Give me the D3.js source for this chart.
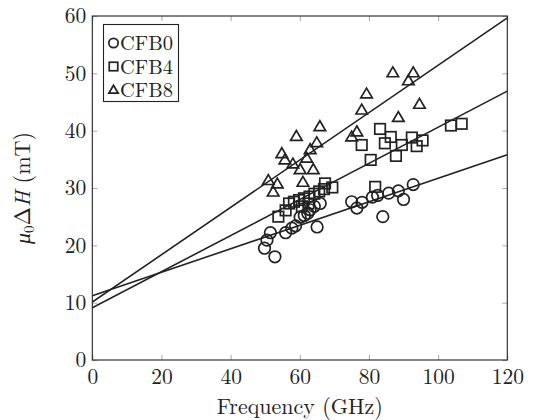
<!DOCTYPE html>
<html><head><meta charset="utf-8">
<script src="https://cdn.jsdelivr.net/npm/d3@7"></script>
<style>body{margin:0;background:#fff;}</style>
</head><body><svg id="c" width="540" height="420"></svg>
<script>
// ---- data ----
const seriesNames = ["CFB0", "CFB4", "CFB8"];
const xTicks = [0, 20, 40, 60, 80, 100, 120];
const yTicks = [0, 10, 20, 30, 40, 50, 60];
const cfb0 = [[49.8,19.5],[50.5,20.9],[51.5,22.2],[52.8,18.0],[55.9,22.2],[57.7,23.0],[58.8,23.4],
  [60.1,24.9],[61.3,25.2],[62.3,25.6],[63.0,26.2],[64.2,26.8],[65.0,23.2],[65.9,27.3],[75.0,27.6],
  [76.5,26.5],[78.0,27.5],[81.0,28.4],[82.5,28.7],[84.0,25.0],[85.7,29.1],[88.5,29.5],[90.0,28.0],[92.8,30.6]];
const cfb4 = [[53.8,25.0],[55.9,26.1],[56.9,27.3],[58.3,27.6],[59.8,27.9],[60.6,26.8],[61.2,28.2],[62.5,27.3],
  [62.8,28.5],[64.2,29.0],[65.6,29.4],[67.0,29.8],[67.3,30.8],[69.4,30.1],[77.9,37.5],[80.5,34.9],
  [81.8,30.2],[83.2,40.3],[84.6,37.8],[86.3,38.9],[87.8,35.6],[89.5,37.5],[92.4,38.8],[93.8,37.3],
  [95.5,38.3],[103.7,40.9],[106.8,41.2]];
const cfb8 = [[50.9,31.3],[52.3,29.3],[53.5,30.7],[54.8,36.0],[55.7,34.9],[58.0,34.2],[59.0,39.0],[60.1,33.2],
  [60.9,31.0],[62.0,35.2],[63.0,36.7],[63.9,33.2],[64.9,37.9],[65.8,40.7],[75.0,38.9],[76.5,39.8],
  [77.9,43.6],[79.3,46.4],[86.9,50.1],[88.5,42.3],[91.4,48.7],[92.8,50.1],[94.6,44.6]];
const fitIntercepts = [11.2, 9.1, 10.1];
const fitSlopes = [0.205, 0.315, 0.413];

// ---- layout ----
const L = 92.3, R = 507.3, T = 16, B = 360;
const FONT = '"Latin Modern Roman", "Liberation Serif", serif';
const FS = 21.5;
const svg = d3.select("#c");
const x = d3.scaleLinear().domain([0,120]).range([L,R]);
const y = d3.scaleLinear().domain([0,60]).range([B,T]);
const ink = "#222";

svg.append("defs").append("clipPath").attr("id","clip")
  .append("rect").attr("x",L).attr("y",T).attr("width",R-L).attr("height",B-T);

// axes with inward ticks
const tickLen = 5;
const gx = svg.append("g").attr("transform",`translate(0,${B})`)
  .call(d3.axisBottom(x).tickValues(xTicks).tickSize(-tickLen).tickPadding(9));
const gxt = svg.append("g").attr("transform",`translate(0,${T})`)
  .call(d3.axisTop(x).tickValues(xTicks).tickSize(-tickLen).tickFormat(""));
const gy = svg.append("g").attr("transform",`translate(${L},0)`)
  .call(d3.axisLeft(y).tickValues(yTicks).tickSize(-tickLen).tickPadding(6));
const gyr = svg.append("g").attr("transform",`translate(${R},0)`)
  .call(d3.axisRight(y).tickValues(yTicks).tickSize(-tickLen).tickFormat(""));
[gx,gxt,gy,gyr].forEach(g=>{
  g.select(".domain").remove();
  g.selectAll(".tick line").attr("stroke","#aaa").attr("stroke-width",1);
  g.selectAll(".tick text").style("font-family",FONT).style("font-size",FS+"px").attr("fill",ink);
});
gx.selectAll(".tick text").attr("dy","0.71em");
svg.append("rect").attr("x",L).attr("y",T).attr("width",R-L).attr("height",B-T)
  .attr("fill","none").attr("stroke",ink).attr("stroke-width",1.1);

// fit lines
const plot = svg.append("g").attr("clip-path","url(#clip)");
fitIntercepts.forEach((b,i)=>{
  const m = fitSlopes[i];
  plot.append("line").attr("x1",x(0)).attr("y1",y(b)).attr("x2",x(120)).attr("y2",y(b+m*120))
    .attr("stroke",ink).attr("stroke-width",1.6);
});

// markers
const sw = 1.7;
function marker(g, kind, cx, cy, s){
  if(kind===0) g.append("circle").attr("cx",cx).attr("cy",cy).attr("r",s*0.55)
      .attr("fill","none").attr("stroke",ink).attr("stroke-width",sw);
  else if(kind===1) g.append("rect").attr("x",cx-s/2).attr("y",cy-s/2).attr("width",s).attr("height",s)
      .attr("fill","none").attr("stroke",ink).attr("stroke-width",sw);
  else { const h=s*0.9; g.append("path")
      .attr("d",`M${cx},${cy-h*0.62}L${cx+s*0.55},${cy+h*0.42}L${cx-s*0.55},${cy+h*0.42}Z`)
      .attr("fill","none").attr("stroke",ink).attr("stroke-width",sw).attr("stroke-linejoin","miter"); }
}
[cfb0,cfb4,cfb8].forEach((data,k)=>{
  const g = svg.append("g");
  data.forEach(d=>marker(g,k,x(d[0]),y(d[1]),10.5));
});

// legend
const lg = svg.append("g");
lg.append("rect").attr("x",103.5).attr("y",24.5).attr("width",75).attr("height",77)
  .attr("fill","#fff").attr("stroke",ink).attr("stroke-width",1.1);
seriesNames.forEach((n,i)=>{
  const cy = 43 + i*23.5;
  marker(lg,i,113.5,cy,8.5);
  lg.append("text").attr("x",120).attr("y",cy).attr("dy","0.35em")
    .style("font-family",FONT).style("font-size","20.5px").attr("fill",ink).text(n);
});

// axis labels
svg.append("text").attr("x",(L+R)/2).attr("y",414).attr("text-anchor","middle")
  .style("font-family",FONT).style("font-size","22px").attr("fill",ink).text("Frequency (GHz)");
const yl = svg.append("text").attr("transform",`translate(30,${(T+B)/2}) rotate(-90)`)
  .attr("text-anchor","middle").style("font-family",FONT).style("font-size","22px").attr("fill",ink);
yl.append("tspan").style("font-style","italic").text("μ");
yl.append("tspan").style("font-size","15px").attr("dy",4).text("0");
yl.append("tspan").attr("dy",-4).text("Δ");
yl.append("tspan").style("font-style","italic").text("H");
yl.append("tspan").text(" (mT)");
</script></body></html>
